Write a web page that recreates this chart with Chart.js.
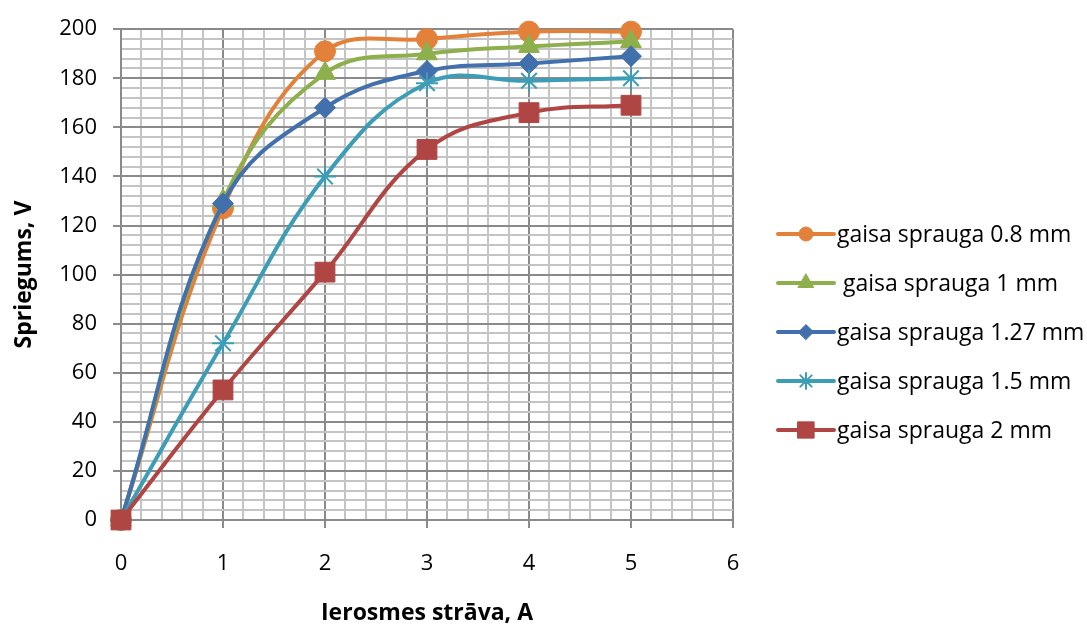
<!DOCTYPE html>
<html>
<head>
<meta charset="utf-8">
<script src="https://cdn.jsdelivr.net/npm/chart.js@4.4.1/dist/chart.umd.min.js"></script>
<style>
  html, body { margin: 0; padding: 0; background: #fff; }
  #wrap { width: 1087px; height: 627px; position: relative; }
</style>
</head>
<body>
<div id="wrap"><canvas id="chart"></canvas></div>
<script>
// data
const current = [0, 1, 2, 3, 4, 5];
const gap08 = [0, 127, 191, 196, 199, 199];
const gap1 = [0, 130, 182, 190, 193, 195];
const gap127 = [0, 129, 168, 183, 186, 189];
const gap15 = [0, 72, 140, 178, 179, 180];
const gap2 = [0, 53, 101, 151, 166, 169];

const seriesNames = ['gaisa sprauga 0.8 mm', ' gaisa sprauga 1 mm', 'gaisa sprauga 1.27 mm', 'gaisa sprauga 1.5 mm', 'gaisa sprauga 2 mm'];
const seriesValues = [gap08, gap1, gap127, gap15, gap2];
const seriesColors = ['#E3813A', '#8DAF4C', '#4170AC', '#3E9DB6', '#B04644'];
const seriesMarkers = ['circle', 'triangle', 'rectRot', 'star', 'rect'];
const markerSizes = [10.5, 12, 10.5, 11, 14];
const legendSizes = [7, 9, 7.5, 8, 11.5];

const FONT = '"Open Sans", "Noto Sans", sans-serif';
const MAJOR = '#8a8a8a';
const MINOR = '#c4c4c4';

const datasets = seriesValues.map((vals, i) => ({
  label: seriesNames[i],
  data: vals.map((v, j) => ({ x: current[j], y: v })),
  borderColor: seriesColors[i],
  backgroundColor: seriesColors[i],
  borderWidth: 4,
  pointStyle: seriesMarkers[i],
  pointRadius: markerSizes[i],
  pointBorderWidth: seriesMarkers[i] === 'star' ? 2 : 1,
  pointBorderColor: seriesColors[i],
  pointBackgroundColor: seriesColors[i],
  tension: 0.4,
  clip: false,
  // later series sit on top, as in the original
  order: seriesValues.length - 1 - i
}));

// legend drawn with a line through the marker, like the original
const lineLegend = {
  id: 'lineLegend',
  afterDraw(chart) {
    const ctx = chart.ctx;
    const x0 = 778, x1 = 834, top = 234, step = 49;
    ctx.save();
    chart.data.datasets.forEach((ds, i) => {
      const y = top + i * step;
      ctx.strokeStyle = ds.borderColor;
      ctx.lineWidth = 4;
      ctx.lineCap = 'round';
      ctx.beginPath();
      ctx.moveTo(x0, y);
      ctx.lineTo(x1, y);
      ctx.stroke();
      ctx.fillStyle = ds.backgroundColor;
      ctx.lineWidth = ds.pointBorderWidth;
      Chart.helpers.drawPoint(ctx, {
        pointStyle: ds.pointStyle,
        radius: legendSizes[i],
        rotation: 0,
        borderWidth: ds.pointBorderWidth
      }, (x0 + x1) / 2, y);
      ctx.fillStyle = '#000';
      ctx.font = '23px ' + FONT;
      ctx.textBaseline = 'middle';
      ctx.textAlign = 'left';
      ctx.fillText(ds.label, x1 + 3, y + 1);
    });
    ctx.restore();
  }
};

const isWhole = v => Math.abs(v - Math.round(v)) < 1e-6;

new Chart(document.getElementById('chart'), {
  type: 'line',
  data: { datasets },
  options: {
    responsive: true,
    maintainAspectRatio: false,
    animation: false,
    layout: { padding: { top: 27, right: 354, bottom: 0, left: 0 } },
    plugins: {
      legend: { display: false },
      tooltip: { enabled: false }
    },
    scales: {
      x: {
        type: 'linear',
        min: 0,
        max: 6,
        afterFit: s => { s.height = 107; },
        ticks: {
          stepSize: 0.2,
          autoSkip: false,
          maxRotation: 0,
          padding: 23,
          color: '#000',
          font: { family: FONT, size: 22 },
          callback: v => isWhole(v) ? String(Math.round(v)) : ''
        },
        grid: {
          color: c => isWhole(c.tick.value) ? MAJOR : MINOR,
          tickColor: c => isWhole(c.tick.value) ? MAJOR : 'rgba(0,0,0,0)',
          lineWidth: 2,
          tickLength: 8
        },
        border: { color: MAJOR, width: 2 },
        title: {
          display: true,
          text: 'Ierosmes strāva, A',
          color: '#000',
          font: { family: FONT, size: 23, weight: 'bold' },
          padding: { top: 0, bottom: 0 }
        }
      },
      y: {
        min: 0,
        max: 200,
        afterFit: s => { s.width = 121; },
        ticks: {
          stepSize: 4,
          autoSkip: false,
          padding: 16,
          color: '#000',
          font: { family: FONT, size: 22 },
          callback: v => v % 20 === 0 ? String(v) : ''
        },
        grid: {
          color: c => c.tick.value % 20 === 0 ? MAJOR : MINOR,
          tickColor: c => c.tick.value % 20 === 0 ? MAJOR : 'rgba(0,0,0,0)',
          lineWidth: 2,
          tickLength: 8
        },
        border: { color: MAJOR, width: 2 },
        title: {
          display: true,
          text: 'Spriegums, V',
          color: '#000',
          font: { family: FONT, size: 23, weight: 'bold' },
          padding: { top: 11, bottom: 0 }
        }
      }
    }
  },
  plugins: [lineLegend]
});
</script>
</body>
</html>
